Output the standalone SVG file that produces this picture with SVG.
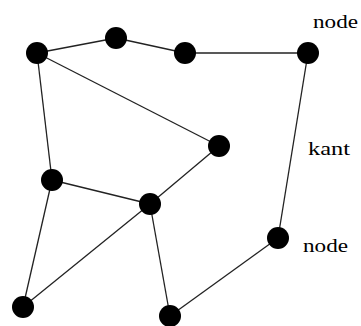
<svg xmlns="http://www.w3.org/2000/svg" width="361" height="326" viewBox="0 0 361 326">
  <style>
    .edge { stroke: #222; stroke-width: 1.3; fill: none; }
    .node { fill: #000; }
    .label { font-family: "Liberation Serif", "DejaVu Serif", serif; font-size: 18px; fill: #000; }
  </style>
  <rect width="361" height="326" fill="#fff"/>
  <g id="edges">
    <line class="edge" x1="37" y1="53" x2="116" y2="38"/>
    <line class="edge" x1="116" y1="38" x2="185" y2="53"/>
    <line class="edge" x1="185" y1="53" x2="308" y2="53"/>
    <line class="edge" x1="37" y1="53" x2="52" y2="180"/>
    <line class="edge" x1="37" y1="53" x2="219" y2="146"/>
    <line class="edge" x1="219" y1="146" x2="150" y2="204"/>
    <line class="edge" x1="52" y1="180" x2="150" y2="204"/>
    <line class="edge" x1="52" y1="180" x2="23" y2="307"/>
    <line class="edge" x1="150" y1="204" x2="23" y2="307"/>
    <line class="edge" x1="150" y1="204" x2="170" y2="316"/>
    <line class="edge" x1="170" y1="316" x2="278" y2="238"/>
    <line class="edge" x1="278" y1="238" x2="308" y2="53"/>
  </g>
  <g id="n1"><circle class="node" cx="37" cy="53" r="11"/></g>
  <g id="n2"><circle class="node" cx="116" cy="38" r="11"/></g>
  <g id="n3"><circle class="node" cx="185" cy="53" r="11"/></g>
  <g id="n4"><circle class="node" cx="308" cy="53" r="11"/></g>
  <g id="n5"><circle class="node" cx="219" cy="146" r="11"/></g>
  <g id="n6"><circle class="node" cx="52" cy="180" r="11"/></g>
  <g id="n7"><circle class="node" cx="150" cy="204" r="11"/></g>
  <g id="n8"><circle class="node" cx="278" cy="238" r="11"/></g>
  <g id="n9"><circle class="node" cx="23" cy="307" r="11"/></g>
  <g id="n10"><circle class="node" cx="170" cy="316" r="11"/></g>
  <g id="labels">
    <text class="label" x="313" y="28" textLength="45" lengthAdjust="spacingAndGlyphs">node</text>
    <text class="label" x="308" y="155" textLength="42" lengthAdjust="spacingAndGlyphs">kant</text>
    <text class="label" x="303" y="252" textLength="45" lengthAdjust="spacingAndGlyphs">node</text>
  </g>
</svg>
